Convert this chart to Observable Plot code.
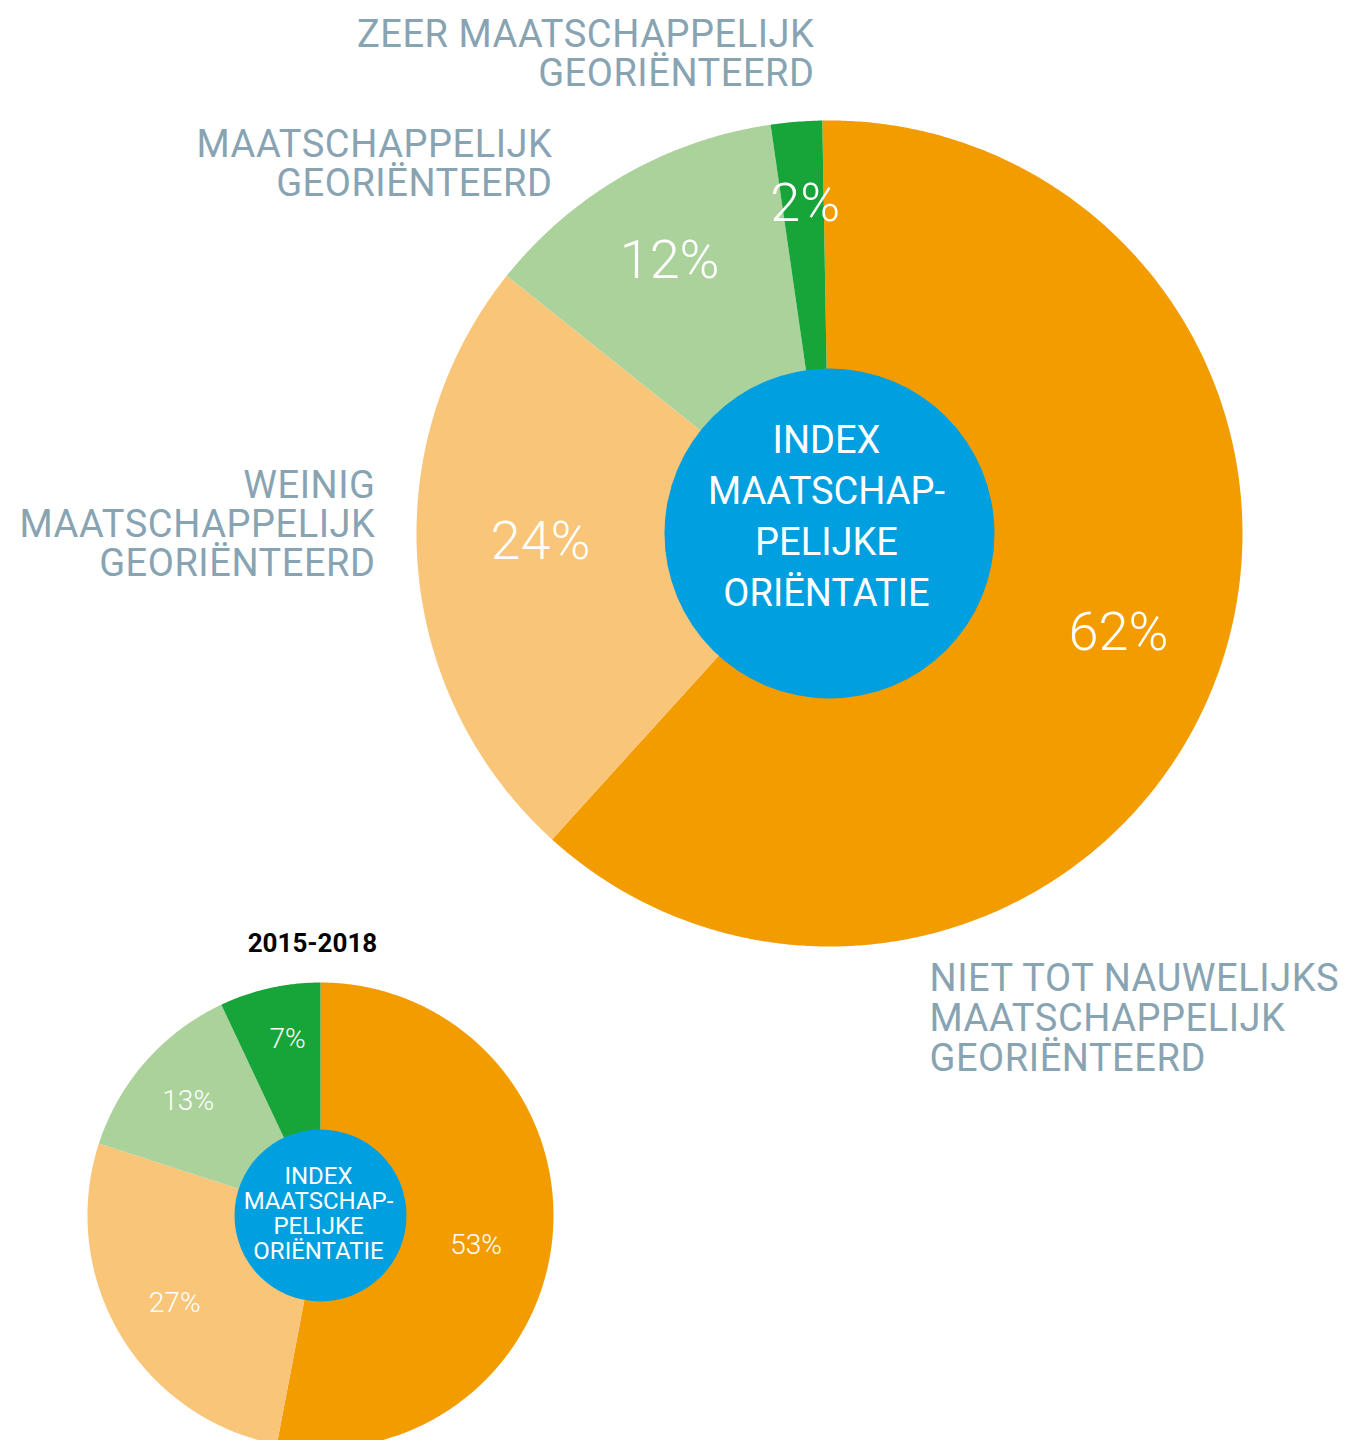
<!DOCTYPE html>
<html>
<head>
<meta charset="utf-8">
<script src="https://cdn.jsdelivr.net/npm/d3@7"></script>
<script src="https://cdn.jsdelivr.net/npm/@observablehq/plot@0.6"></script>
<style>
  html, body { margin: 0; padding: 0; background: #ffffff; }
  #chart svg { display: block; }
</style>
</head>
<body>
<div id="chart"></div>
<script>
// ---------- DATA ----------
const categories = [
  "NIET TOT NAUWELIJKS\nMAATSCHAPPELIJK\nGEORIËNTEERD",
  "WEINIG\nMAATSCHAPPELIJK\nGEORIËNTEERD",
  "MAATSCHAPPELIJK\nGEORIËNTEERD",
  "ZEER MAATSCHAPPELIJK\nGEORIËNTEERD"
];
const sharesCurrent = [62, 24, 12, 2];   // large pie (%)
const shares2015 = [53, 27, 13, 7];      // small pie 2015-2018 (%)
const periodLabel = "2015-2018";
const centerLabel = "INDEX\nMAATSCHAP-\nPELIJKE\nORIËNTATIE";
const sliceColors = ["#f39c00", "#f8c579", "#acd29c", "#17a539"];

// ---------- LAYOUT ----------
const W = 1345, H = 1440;
const labelColor = "#88a3b1";
const pies = [
  {key: "current", shares: sharesCurrent, cx: 829, cy: 533, r: 413, hole: 165, rot: -1,
   pctSize: 54, labelRadius: [0.74, 0.70, 0.765, 0.80], labelShift: [-1.6, 3, -0.6, 0.4],
   centerSize: 38, centerLine: 1.34, centerDx: -3, centerDy: -20},
  {key: "p2015", shares: shares2015, cx: 320, cy: 1215, r: 233, hole: 86, rot: 0,
   pctSize: 28, labelRadius: [0.68, 0.73, 0.75, 0.77], labelShift: [5.5, -0.4, -0.6, 2],
   centerSize: 24, centerLine: 1.04, centerDx: -2, centerDy: -2}
];
// category label anchors for the large pie (one per category)
const catAnchors = [
  {x: 929, y: 962, anchor: "start"},
  {x: 375, y: 470, anchor: "end"},
  {x: 552, y: 129, anchor: "end"},
  {x: 814, y: 19, anchor: "end"}
];
const titleAnchor = {x: 312, y: 933};

// ---------- GEOMETRY FROM DATA ----------
const slicePts = [];
const pctLabels = [];
for (const p of pies) {
  const total = d3.sum(p.shares);
  let acc = 0;
  p.shares.forEach((v, i) => {
    const a0 = (acc / total) * 360 + p.rot;
    acc += v;
    const a1 = (acc / total) * 360 + p.rot;
    const id = p.key + "-" + i;
    const cat = categories[i];
    slicePts.push({id, cat, x: p.cx, y: p.cy});
    const n = Math.max(2, Math.ceil((a1 - a0) / 0.4));
    for (let k = 0; k <= n; k++) {
      const a = (a0 + (a1 - a0) * k / n) * Math.PI / 180;
      slicePts.push({id, cat, x: p.cx + p.r * Math.sin(a), y: p.cy - p.r * Math.cos(a)});
    }
    slicePts.push({id, cat, x: p.cx, y: p.cy});
    const am = ((a0 + a1) / 2 + p.labelShift[i]) * Math.PI / 180;
    const rr = p.r * p.labelRadius[i];
    pctLabels.push({x: p.cx + rr * Math.sin(am), y: p.cy - rr * Math.cos(am), text: `${v}%`, size: p.pctSize});
  });
}
const catLabels = categories.map((c, i) => ({text: c, ...catAnchors[i]}));

const font = "Roboto, 'Open Sans', sans-serif";

const centerText = (p) => Plot.text([p], {
  x: d => d.cx + d.centerDx, y: d => d.cy + d.centerDy, text: () => centerLabel,
  fontSize: p.centerSize, lineHeight: p.centerLine, fill: "#ffffff",
  fontWeight: 400, fontFamily: font
});

const chart = Plot.plot({
  width: W,
  height: H,
  margin: 0,
  x: {domain: [0, W], range: [0, W], axis: null},
  y: {domain: [0, H], range: [0, H], axis: null},
  r: {type: "identity"},
  color: {domain: categories, range: sliceColors},
  style: {background: "#ffffff", fontFamily: font},
  marks: [
    Plot.line(slicePts, {x: "x", y: "y", z: "id", fill: "cat", stroke: "none", curve: "linear-closed"}),
    Plot.dot(pies, {x: "cx", y: "cy", r: "hole", fill: "#009fe0", stroke: "none"}),
    Plot.text(pctLabels, {x: "x", y: "y", text: "text", fontSize: "size", fill: "#ffffff",
      fontWeight: 300, fontFamily: font}),
    centerText(pies[0]),
    centerText(pies[1]),
    Plot.text(catLabels.filter(d => d.anchor === "end"), {x: "x", y: "y", text: "text",
      textAnchor: "end", lineAnchor: "top", lineHeight: 1.02, fontSize: 38, fill: labelColor,
      fontWeight: 400, fontFamily: font}),
    Plot.text(catLabels.filter(d => d.anchor === "start"), {x: "x", y: "y", text: "text",
      textAnchor: "start", lineAnchor: "top", lineHeight: 1.05, fontSize: 38, fill: labelColor,
      fontWeight: 400, fontFamily: font}),
    Plot.text([periodLabel], {x: titleAnchor.x, y: titleAnchor.y, text: d => d,
      lineAnchor: "top", fontSize: 26, fontWeight: 700, fill: "#000000", fontFamily: font})
  ]
});
// wider tracking for the grey category labels (DIN-like spacing)
d3.select(chart).selectAll("g").filter(function () {
  return (this.getAttribute("fill") || "").toLowerCase() === labelColor;
}).style("letter-spacing", "0.55px");
document.getElementById("chart").appendChild(chart);
</script>
</body>
</html>
